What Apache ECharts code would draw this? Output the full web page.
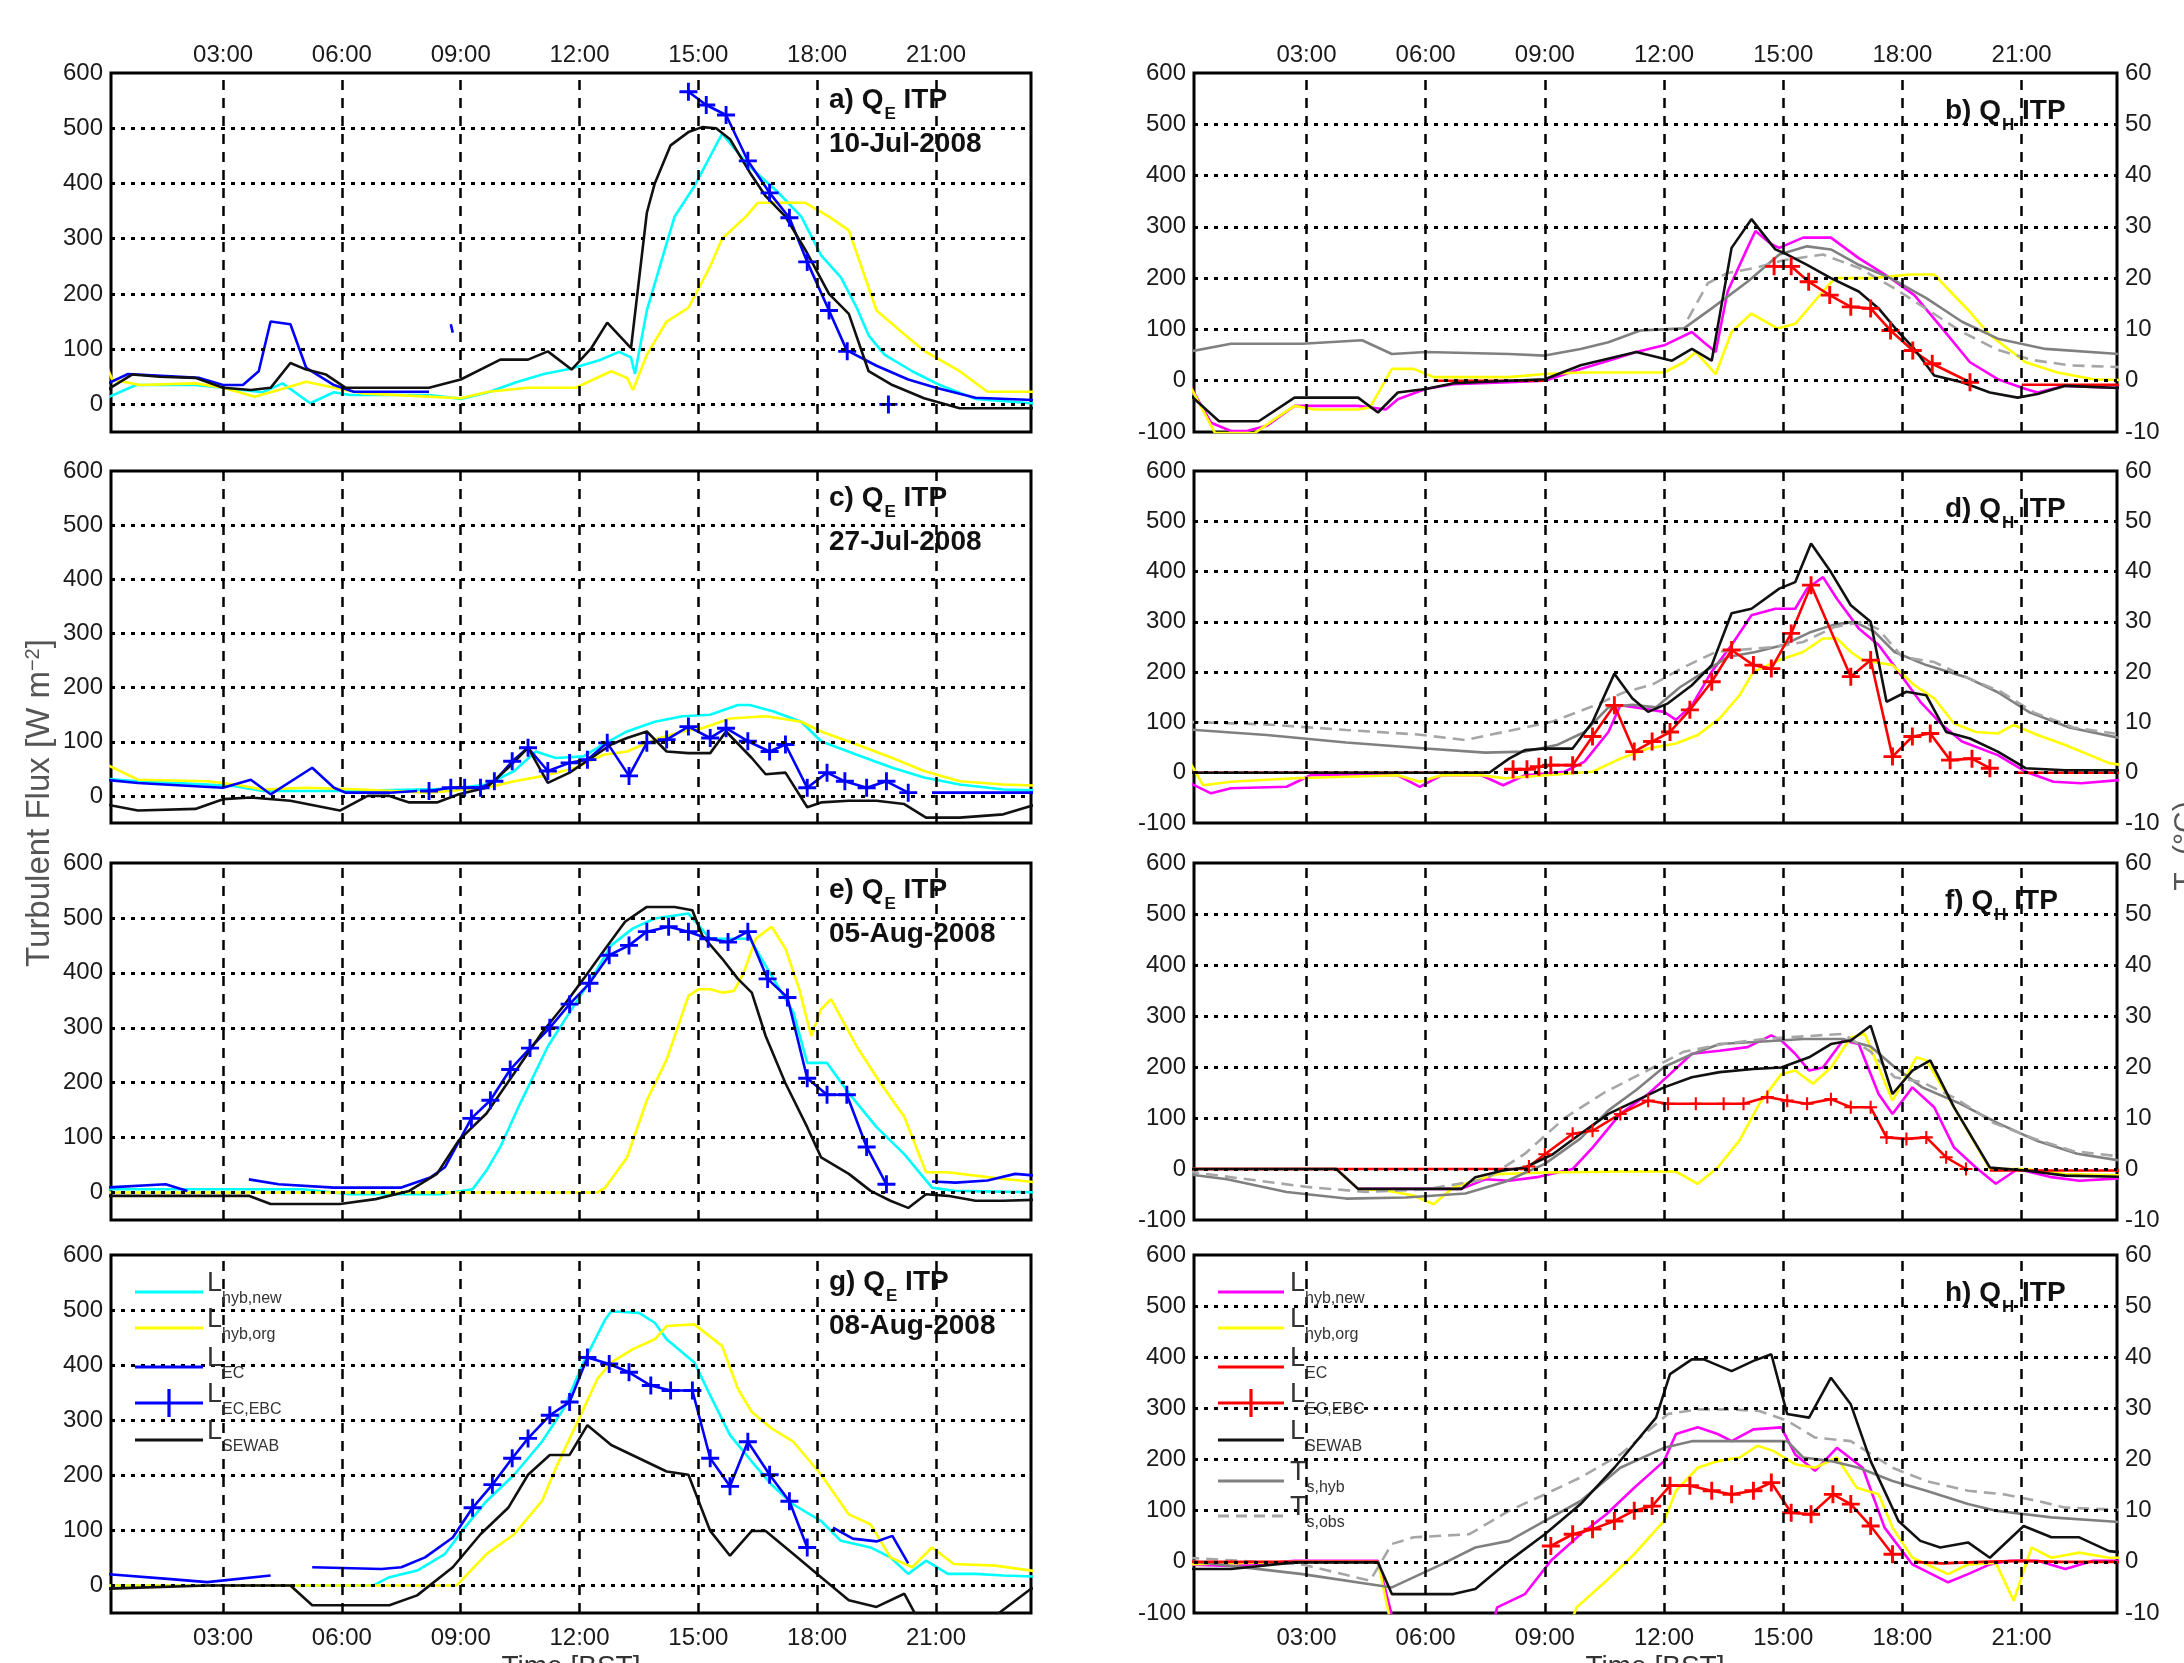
<!DOCTYPE html>
<html>
<head>
<meta charset="utf-8">
<script src="https://cdn.jsdelivr.net/npm/echarts@6/dist/echarts.min.js"></script>
<style>
html,body{margin:0;padding:0;background:#fff;}
#chart{width:2184px;height:1663px;}
</style>
</head>
<body>
<div id="chart"></div>
<script>
// ---- axis ticks and labels ----
const hourTicks  = [3, 6, 9, 12, 15, 18, 21];
const hourLabels = ['03:00', '06:00', '09:00', '12:00', '15:00', '18:00', '21:00'];
const fluxTicksQE = [0, 100, 200, 300, 400, 500, 600];
const fluxTicksQH = [-100, 0, 100, 200, 300, 400, 500, 600];
const tempTicks   = [-10, 0, 10, 20, 30, 40, 50, 60];
const fluxGridLines = [0, 100, 200, 300, 400, 500];
const panelLetters = ['a', 'b', 'c', 'd', 'e', 'f', 'g', 'h'];
const dayLabels = ['10-Jul-2008', '27-Jul-2008', '05-Aug-2008', '08-Aug-2008'];

// ---- latent heat flux Q_E (W m-2), [hour, value] ----
const aHybNew = [[0,10],[0.8,35],[2.3,35],[3,30],[4,22],[4.5,38],[5.2,2],[5.8,22],[6.2,17],[8.2,17],[9,10],[9.7,22],[10.4,40],[11.1,55],[11.8,65],[12.5,80],[13,95],[13.3,85],[13.4,55],[13.7,170],[14.4,340],[14.9,395],[15.6,490],[16.3,430],[17,385],[17.6,340],[18.1,270],[18.6,230],[19,175],[19.3,125],[19.7,90],[20.4,60],[21.1,35],[22,10],[23.4,2],[24,2]];
const aHybOrg = [[0,80],[0.2,45],[0.9,35],[2.3,38],[3,30],[3.8,14],[4.4,26],[5.1,41],[5.8,30],[6.5,20],[8.2,14],[9,11],[9.7,23],[10.7,30],[11.9,30],[12.5,50],[12.8,60],[13.2,48],[13.35,26],[13.7,90],[14.2,150],[14.75,175],[15.3,250],[15.6,300],[16.2,340],[16.5,365],[17.7,365],[18.3,340],[18.8,315],[19.5,170],[20.2,127],[20.7,97],[21.6,60],[22.3,23],[24,23]];
const aEC     = [[0,35],[0.6,55],[2.4,48],[3,35],[3.5,35],[3.9,60],[4.2,150],[4.7,145],[5.1,66],[5.8,35],[6.3,23],[8.2,23],[8.4,null],[8.75,145],[8.8,130],[9,null],[18.8,96],[19.5,70],[20.3,45],[21,30],[22,12],[23.45,8],[24,8]];
const aEBC    = [[14.75,566],[15.2,542],[15.7,524],[16.25,441],[16.8,383],[17.3,338],[17.75,258],[18.3,170],[18.76,96],[19.2,null],[19.8,0]];
const aSewab  = [[0,23],[0.7,54],[1.4,50],[2.3,48],[3,30],[3.7,26],[4.2,30],[4.7,75],[5.1,63],[5.6,54],[6.1,30],[8.2,30],[9,45],[10,81],[10.7,81],[11.2,96],[11.8,63],[12.3,102],[12.7,148],[13.3,102],[13.7,347],[13.9,400],[14.3,469],[14.75,493],[15.1,502],[15.45,500],[15.8,480],[16.3,420],[16.7,377],[17.2,340],[17.7,280],[18.3,200],[18.8,164],[19.3,60],[19.9,35],[20.7,11],[21.6,-7],[24,-7]];

const cHybNew = [[0,32],[0.85,27],[2.6,21],[3.3,18],[4,9],[6.1,9],[8.2,12],[9,15],[9.65,21],[10.35,46],[10.9,82],[11.4,70],[12.1,73],[12.6,95],[13.2,119],[13.9,137],[14.6,147],[15.3,150],[16,168],[16.3,168],[16.9,156],[17.6,137],[18.1,101],[19,76],[19.9,52],[20.7,34],[21.6,21],[22.7,12],[24,9]];
const cHybOrg = [[0,60],[0.85,30],[2.6,27],[3.3,21],[4,12],[5.1,15],[6.5,12],[8.2,6],[9.65,15],[10.35,27],[11.1,37],[11.9,52],[12.6,76],[13.2,82],[13.9,104],[14.6,119],[15.1,125],[15.8,143],[16.7,147],[17.6,137],[18.1,119],[19,95],[19.9,70],[20.7,46],[21.6,27],[22.7,21],[24,18]];
const cEC     = [[0,30],[0.85,24],[2.3,18],[3,15],[3.7,30],[4.2,3],[5.25,52],[5.8,15],[6.1,6],[7.2,6],[7.9,9],[8.3,null],[20.9,6],[24,6]];
const cEBC    = [[8.2,9],[8.75,15],[9.1,15],[9.5,15],[9.85,27],[10.3,64],[10.7,89],[11.2,46],[11.75,61],[12.2,67],[12.7,98],[13.25,37],[13.7,98],[14.2,104],[14.75,128],[15.3,107],[15.7,125],[16.25,101],[16.8,82],[17.2,95],[17.75,15],[18.25,43],[18.7,27],[19.25,15],[19.75,27],[20.3,6]];
const cSewab  = [[0,-15],[0.85,-27],[2.3,-24],[3,-6],[3.7,-3],[4.7,-9],[5.95,-27],[6.65,0],[7.2,0],[7.7,-12],[8.4,-12],[8.95,3],[9.65,15],[10.2,52],[10.7,89],[11.2,24],[11.75,43],[12.3,70],[12.8,95],[13.2,107],[13.7,119],[14.2,82],[14.75,79],[15.3,79],[15.7,119],[16.35,70],[16.7,40],[17.2,43],[17.75,-21],[18.1,-12],[18.8,-9],[19.5,-9],[20.2,-15],[20.75,-40],[21.6,-40],[22.7,-34],[24,-5]];

const eHybNew = [[0,6],[5,6],[6.2,-3],[8.5,-3],[9.3,6],[9.65,40],[10,83],[10.5,162],[11.2,266],[11.75,328],[12.3,389],[12.8,450],[13.35,481],[13.9,499],[14.75,508],[15.3,462],[16.3,462],[16.7,413],[17.4,328],[17.75,236],[18.25,236],[18.8,181],[19.5,119],[20.2,70],[20.9,9],[21.45,3],[24,0]];
const eHybOrg = [[0,0],[12.45,0],[12.65,9],[13.2,64],[13.7,168],[14.2,242],[14.75,358],[15,370],[15.3,370],[15.6,364],[15.9,367],[16.15,401],[16.45,462],[16.85,484],[17.2,444],[17.55,370],[17.85,285],[18.1,334],[18.35,352],[19,266],[19.6,199],[20.2,138],[20.75,37],[21.3,37],[22.3,28],[24,15]];
const eEC     = [[0,9],[1.55,15],[2.1,3],[2.2,null],[3.65,24],[4.4,15],[5.8,9],[7.5,9],[8.25,28],[8.6,46],[9.27,135],[9.4,null],[20.9,20],[21.5,18],[22.3,22],[23,34],[24,28]];
const eEBC    = [[9.27,135],[9.75,168],[10.25,224],[10.75,263],[11.25,300],[11.75,343],[12.25,381],[12.75,432],[13.25,450],[13.7,475],[14.25,484],[14.75,475],[15.25,462],[15.75,456],[16.25,475],[16.75,389],[17.25,355],[17.75,208],[18.25,178],[18.75,178],[19.25,83],[19.75,15]];
const eSewab  = [[0,-6],[3.65,-6],[4.2,-21],[5.95,-21],[6.85,-12],[7.7,3],[8.4,34],[8.95,95],[9.65,144],[10.35,217],[11.05,291],[11.6,340],[12.1,389],[12.65,444],[13.15,493],[13.7,520],[14.4,520],[14.85,514],[15.1,468],[15.6,426],[16,389],[16.35,364],[16.7,285],[17.2,199],[17.75,119],[18.1,64],[18.8,34],[19.35,3],[19.85,-15],[20.3,-28],[20.75,-3],[21.3,-6],[22,-15],[22.7,-15],[24,-12]];

const gHybNew = [[0,0],[6.8,0],[7.2,15],[7.9,27],[8.6,57],[9.1,105],[9.65,153],[10.35,201],[11.05,261],[11.6,321],[12.1,405],[12.65,483],[12.8,498],[13.5,495],[13.9,477],[14.2,447],[14.9,405],[15.3,345],[15.8,273],[16.35,225],[16.85,183],[17.4,147],[18.1,117],[18.6,81],[19.35,69],[19.85,51],[20.3,21],[20.75,45],[21.3,21],[22,21],[22.7,18],[24,15]];
const gHybOrg = [[0,0],[8.9,0],[9.65,57],[10.35,93],[11.05,153],[11.4,213],[11.95,297],[12.45,375],[12.8,405],[13.35,429],[13.9,447],[14.2,471],[14.9,474],[15.6,435],[16,357],[16.35,315],[16.85,285],[17.4,261],[18.1,201],[18.8,129],[19.35,111],[19.85,51],[20.4,33],[20.9,69],[21.45,39],[22.5,36],[24,21]];
const gEC     = [[0,21],[1.6,12],[2.6,6],[4.2,18],[4.3,null],[5.25,33],[7,30],[7.5,33],[8.1,51],[8.8,87],[9.3,141],[9.4,null],[18.4,105],[18.9,85],[19.5,80],[19.9,90],[20.3,40]];
const gEBC    = [[9.3,141],[9.8,183],[10.3,231],[10.7,267],[11.25,309],[11.75,333],[12.2,414],[12.75,402],[13.25,387],[13.8,363],[14.3,354],[14.85,354],[15.3,231],[15.8,180],[16.25,261],[16.8,201],[17.3,153],[17.75,69]];
const gSewab  = [[0,-6],[2.6,0],[4.7,0],[5.25,-36],[7.2,-36],[7.9,-18],[8.8,33],[9.5,93],[10.2,141],[10.7,201],[11.25,237],[11.75,237],[12.2,291],[12.8,255],[13.5,231],[14.2,207],[14.75,201],[15.3,99],[15.8,54],[16.35,99],[16.7,99],[17.4,57],[18.1,15],[18.8,-27],[19.5,-39],[20.2,-15],[20.5,-55],[22.5,-55],[23.4,-6],[24,0]];

// ---- sensible heat flux Q_H (W m-2) and surface temperature (deg C) ----
const bHybNew = [[0,0],[0.6,-82],[1.1,-98],[1.5,-98],[2,-88],[2.7,-49],[4.3,-49],[5,-56],[5.3,-36],[6,-16],[6.7,-7],[8.1,-3],[9,0],[9.9,23],[10.6,39],[11.3,56],[12,69],[12.7,95],[13,75],[13.3,56],[13.6,174],[14.1,259],[14.3,292],[14.7,266],[14.9,259],[15.5,279],[16.2,279],[16.9,239],[17.7,200],[18.3,167],[19,102],[19.7,36],[20.4,3],[21.1,-16],[21.4,-23],[22.1,-10],[24,-16]];
const bHybOrg = [[0,0],[0.7,-102],[1.7,-102],[2.2,-75],[2.7,-49],[3.2,-56],[4.3,-56],[4.6,-52],[5.15,23],[5.7,23],[6.2,7],[8.1,7],[9,13],[9.9,16],[12,16],[12.5,36],[12.8,56],[13.3,13],[13.7,95],[14.2,131],[14.85,102],[15.3,111],[16,174],[16.3,200],[17.2,200],[18.2,207],[18.8,207],[19.7,134],[20.2,89],[21.1,36],[21.9,16],[22.8,3],[24,0]];
const bEC     = [[6.2,0],[9,0],[9.1,null],[21,-8],[24,-8]];
const bEBC    = [[14.77,223],[15.2,223],[15.64,193],[16.17,167],[16.7,144],[17.2,141],[17.7,98],[18.26,59],[18.75,33],[19.7,-3]];
const bSewab  = [[0,-23],[0.8,-79],[1.8,-79],[2.7,-33],[4.3,-33],[4.8,-62],[5.3,-23],[6,-16],[6.7,-5],[8.1,0],[9,3],[9.9,30],[11.3,56],[12.2,39],[12.7,62],[13.2,39],[13.7,259],[14.2,315],[14.8,256],[15.1,246],[15.6,226],[16.2,200],[16.9,174],[17.4,141],[17.9,95],[18.3,62],[18.8,10],[19.5,-3],[20.2,-23],[20.9,-33],[21.4,-26],[22.1,-10],[24,-16]];
const bTsHyb  = [[0,5.6],[1.1,7.2],[2.9,7.2],[4.4,7.9],[5.15,5.2],[6,5.6],[8.1,5.2],[9,4.9],[9.9,6.2],[10.6,7.5],[11.4,9.8],[12.5,10.2],[13.2,14.1],[14.1,19.3],[14.9,24.6],[15.6,26.2],[16.2,25.6],[16.9,22.6],[17.7,20],[18.6,16.1],[19.5,11.5],[20.4,8.2],[21.6,6.2],[24,4.9]];
const bTsObs  = [[12.6,12],[13.1,19],[13.6,21],[14.3,22],[15,23.5],[16,24.6],[16.9,22],[17.8,18],[18.6,14],[19.5,9.5],[20.4,6],[21.3,4],[22.2,3],[24,2.5]];

const dHybNew = [[0,-18],[0.6,-41],[1.1,-31],[2.5,-28],[3.1,-5],[5.3,-5],[5.85,-28],[6.4,-5],[7.4,-5],[7.95,-25],[8.5,-5],[9.5,2],[10,22],[10.6,81],[10.9,134],[11.45,128],[12,121],[12.3,105],[12.7,134],[13.2,201],[13.7,254],[14.2,313],[14.8,326],[15.3,326],[15.6,366],[16,389],[16.35,346],[16.9,287],[17.4,254],[17.9,201],[18.45,141],[19,95],[19.5,62],[20.4,35],[21.1,2],[21.8,-18],[22.5,-21],[24,-11]];
const dHybOrg = [[0,30],[0.4,-25],[1.1,-18],[2.7,-11],[5.3,-5],[5.85,-18],[6.4,-5],[7.4,-5],[8,-11],[8.5,-8],[10.2,2],[10.9,28],[11.6,48],[12.3,58],[12.85,75],[13.4,108],[13.9,154],[14.25,201],[14.9,224],[15.5,240],[16,267],[16.35,267],[16.7,240],[17,224],[17.75,214],[18.3,174],[18.8,148],[19.3,98],[19.85,81],[20.4,78],[20.8,95],[21.4,75],[22.1,55],[23.2,19],[24,10]];
const dEC     = [[0,0],[7.6,0],[7.7,null],[20.9,0],[24,0]];
const dEBC    = [[8.2,7],[8.55,7],[8.85,12],[9.15,15],[9.7,15],[10.2,72],[10.75,134],[11.25,42],[11.7,62],[12.15,81],[12.65,125],[13.2,181],[13.7,244],[14.25,214],[14.7,207],[15.2,277],[15.7,373],[16.7,191],[17.2,224],[17.75,32],[18.25,72],[18.7,78],[19.2,25],[19.75,28],[20.2,9]];
const dSewab  = [[0,0],[7.6,0],[8.1,28],[8.5,45],[9,48],[9.7,48],[10.2,101],[10.75,197],[11.2,148],[11.6,121],[12.1,138],[12.7,174],[13.2,214],[13.7,317],[14.2,326],[14.9,366],[15.3,379],[15.7,456],[16.2,399],[16.7,333],[17.2,300],[17.6,141],[18.1,161],[18.6,154],[19.1,81],[19.7,68],[20.4,42],[21.1,9],[22.1,5],[24,5]];
const dTsHyb  = [[0,8.6],[2,7.5],[4,6],[6,4.8],[7.5,4],[8.5,4.2],[9.3,5.5],[10,8.1],[10.6,13],[11.2,13.5],[11.8,13],[12.4,17],[13,20],[13.6,23],[14.3,24],[15,25.4],[15.7,28],[16.3,29.5],[16.8,30],[17.3,28],[17.8,24],[18.6,21.4],[19.6,19],[20.4,16],[21.2,12],[22.2,9],[24,6]];
const dTsObs  = [[0,10.1],[2,9.6],[4,8.5],[5.8,7.6],[7,6.5],[8.2,8.5],[9.2,10.2],[10.2,13.2],[11,16],[11.7,17.5],[12.5,21],[13.3,24],[14,24.5],[14.8,25],[15.5,26],[16.3,29],[17,30],[17.4,28.5],[18,23],[18.8,22],[19.6,19],[20.5,16],[21.3,12],[22.3,9],[24,7]];

const fHybNew = [[0,0],[3.75,0],[4.3,-39],[6.9,-39],[7.5,-20],[8.1,-23],[8.8,-16],[9.7,0],[10.2,42],[10.9,108],[11.6,147],[12.15,186],[12.7,226],[13.4,232],[14.1,239],[14.7,262],[14.95,252],[15.3,226],[15.65,193],[16,199],[16.5,252],[16.9,245],[17.4,147],[17.75,108],[18.25,160],[18.8,121],[19.3,42],[19.85,3],[20.35,-29],[20.9,0],[21.75,-16],[22.45,-23],[24,-16]];
const fHybOrg = [[0,0],[3.75,0],[4.3,-39],[5,-42],[5.7,-52],[6.2,-69],[6.7,-36],[7.8,-10],[9,-7],[10.9,-5],[12.3,-5],[12.85,-29],[13.35,3],[13.9,56],[14.4,128],[14.95,186],[15.3,193],[15.75,167],[16.2,199],[16.7,258],[17.05,265],[17.75,134],[18.35,219],[18.6,213],[19.3,121],[20.2,0],[21.1,0],[22.1,-10],[24,-13]];
const fEC     = [[0,0],[8.6,0],[8.7,null],[20.2,-3],[24,-3]];
const fEBC    = [[8.6,5],[9,29],[9.7,69],[10.2,75],[10.9,108],[11.6,134],[12.1,128],[12.8,128],[13.5,128],[14,128],[14.6,141],[15.1,134],[15.6,128],[16.2,137],[16.7,121],[17.2,121],[17.6,62],[18.1,59],[18.6,62],[19.1,23],[19.6,0]];
const fSewab  = [[0,0],[3.75,0],[4.3,-39],[6.9,-39],[7.25,-16],[7.95,-3],[8.5,3],[9.2,29],[9.9,69],[10.6,108],[11.3,134],[12,160],[12.7,180],[13.4,190],[14.25,196],[14.95,199],[15.65,219],[16.2,245],[16.7,252],[17.2,281],[17.75,147],[18.25,193],[18.7,213],[19.3,121],[20.2,3],[21.1,-3],[22.1,-13],[24,-16]];
const fTsHyb  = [[0,-1],[1,-2],[2.5,-4.5],[4,-5.8],[5.5,-5.6],[7,-4.8],[8,-2.5],[9,1],[9.9,6],[10.6,11.5],[11.3,15.5],[12,20],[12.7,22.5],[13.4,24.5],[14.5,25],[15.5,25.5],[16.5,25.5],[17.2,24],[17.8,20],[18.5,16],[19.4,13],[20.4,9],[21.4,5.5],[22.4,3],[24,1]];
const fTsObs  = [[0,-0.5],[1.5,-2],[3,-3.5],[4.5,-4.5],[6,-4],[7.5,-2],[8.5,3],[9.5,10],[10.5,15],[11.5,19],[12.5,23],[13.5,24.5],[14.5,25.5],[15.5,26],[16.5,26.5],[17.2,23],[17.8,18],[18.5,17],[19.3,14],[20.3,9],[21.3,6],[22.3,3.5],[24,2]];

const hHybNew = [[0,-5],[1.1,-8],[2.7,2],[4.8,2],[5.2,-120],[7.7,-120],[7.8,-89],[8.5,-63],[9.15,2],[9.9,54],[10.55,93],[11.25,145],[12,197],[12.3,250],[12.85,263],[13.35,250],[13.7,236],[14.25,259],[14.95,263],[15.3,210],[15.8,178],[16.35,223],[17,184],[17.55,67],[18.25,-5],[19.15,-40],[19.65,-24],[20.2,-5],[20.7,2],[21.4,2],[22.1,-14],[22.8,2],[24,2]];
const hHybOrg = [[0,-5],[2.7,0],[4.8,0],[5.15,-130],[9.6,-130],[9.8,-89],[10.55,-37],[11.25,15],[12,80],[12.3,139],[12.85,184],[13.35,197],[13.9,204],[14.35,227],[14.75,217],[15.3,191],[15.8,184],[16.35,204],[16.85,145],[17.4,132],[17.75,67],[18.25,8],[19.15,-24],[19.65,-5],[20.35,-2],[20.8,-76],[21.25,28],[21.75,8],[22.45,18],[23.2,8],[24,8]];
const hEC     = [[0,0],[4.8,0],[4.9,null],[18.3,0],[19,-3],[20,0],[21,2],[22,0],[24,0]];
const hEBC    = [[9.15,31],[9.7,54],[10.2,64],[10.75,80],[11.25,100],[11.7,109],[12.15,149],[12.65,149],[13.2,139],[13.7,132],[14.25,139],[14.7,155],[15.2,96],[15.7,93],[16.25,132],[16.7,113],[17.2,70],[17.75,15]];
const hSewab  = [[0,-14],[1.1,-14],[2.7,-1],[4.8,-1],[5.15,-63],[6.7,-63],[7.25,-53],[8.1,2],[9,54],[9.9,113],[10.75,184],[11.8,282],[12.15,367],[12.7,396],[13,396],[13.7,373],[14.25,393],[14.7,406],[15.1,289],[15.65,282],[16.2,360],[16.7,308],[17.2,197],[17.9,80],[18.45,41],[18.95,28],[19.65,38],[20.2,8],[21.05,70],[21.75,48],[22.45,48],[23.2,21],[24,15]];
const hTsHyb  = [[0,0.2],[2.9,-2.4],[5.15,-5],[6.4,-0.5],[7.25,2.8],[8.1,4.1],[9,8],[9.9,11.9],[10.9,18.4],[12,22.3],[12.7,23.6],[15.1,23.6],[15.5,20.4],[16.2,19.7],[16.9,18.4],[17.75,15.8],[18.6,13.9],[19.65,11.3],[20.35,10],[21.75,8.7],[24,7.5]];
const hTsObs  = [[0,0.8],[2.9,-0.5],[4.6,-3.7],[5.15,3.5],[5.7,4.8],[7.1,5.4],[8.1,10],[9,13.2],[9.9,16.5],[10.9,21],[12.1,28.9],[12.85,29.8],[13.7,29.8],[14.4,29.5],[15.1,27.6],[15.8,24.3],[16.7,23.6],[17.75,18.4],[18.6,15.8],[19.65,13.9],[20.55,13.2],[21.4,11.9],[22.1,10.6],[24,10]];

// ---- panel grouping ----
const qePanels = [
  { hybNew: aHybNew, hybOrg: aHybOrg, ec: aEC, ebc: aEBC, sewab: aSewab },
  { hybNew: cHybNew, hybOrg: cHybOrg, ec: cEC, ebc: cEBC, sewab: cSewab },
  { hybNew: eHybNew, hybOrg: eHybOrg, ec: eEC, ebc: eEBC, sewab: eSewab },
  { hybNew: gHybNew, hybOrg: gHybOrg, ec: gEC, ebc: gEBC, sewab: gSewab }
];
const qhPanels = [
  { hybNew: bHybNew, hybOrg: bHybOrg, ec: bEC, ebc: bEBC, sewab: bSewab, tsHyb: bTsHyb, tsObs: bTsObs },
  { hybNew: dHybNew, hybOrg: dHybOrg, ec: dEC, ebc: dEBC, sewab: dSewab, tsHyb: dTsHyb, tsObs: dTsObs },
  { hybNew: fHybNew, hybOrg: fHybOrg, ec: fEC, ebc: fEBC, sewab: fSewab, tsHyb: fTsHyb, tsObs: fTsObs },
  { hybNew: hHybNew, hybOrg: hHybOrg, ec: hEC, ebc: hEBC, sewab: hSewab, tsHyb: hTsHyb, tsObs: hTsObs }
];

// ---- layout and styling ----
const FAM = '"Liberation Sans", Arial, Helvetica, sans-serif';
const COLS = [{ left: 111, width: 920 }, { left: 1194, width: 923 }];
const ROWS = [{ top: 73, height: 359 }, { top: 471, height: 352 }, { top: 863, height: 357 }, { top: 1255, height: 358 }];
const COLORS = {
  qe: { hybNew: '#00ffff', hybOrg: '#ffff00', ec: '#0000ff', ebc: '#0000ff', sewab: '#111111' },
  qh: { hybNew: '#ff00ff', hybOrg: '#ffff00', ec: '#ff0000', ebc: '#ff0000', sewab: '#111111', tsHyb: '#808080', tsObs: '#a6a6a6' }
};
const PLUS = 'path://M-1.6,-10L1.6,-10L1.6,-1.6L10,-1.6L10,1.6L1.6,1.6L1.6,10L-1.6,10L-1.6,1.6L-10,1.6L-10,-1.6L-1.6,-1.6Z';
const LABEL_STYLE = { fontFamily: FAM, fontSize: 24, color: '#1a1a1a' };

const clean = arr => arr.map(p => [p[0], p[1] === null ? '-' : p[1]]);
const hourFmt = v => { const i = hourTicks.indexOf(v); return i >= 0 ? hourLabels[i] : ''; };

const grids = [], xAxes = [], yAxes = [], series = [];

for (let r = 0; r < 4; r++) {
  for (let c = 0; c < 2; c++) {
    const gi = grids.length;
    grids.push({
      left: COLS[c].left, top: ROWS[r].top, width: COLS[c].width, height: ROWS[r].height,
      show: true, borderColor: '#000', borderWidth: 3, backgroundColor: 'rgba(0,0,0,0)'
    });
    xAxes.push({
      type: 'value', gridIndex: gi, min: 0.17, max: 23.4,
      position: r === 0 ? 'top' : 'bottom',
      axisLine: { show: false }, axisTick: { show: false }, splitLine: { show: false },
      axisLabel: Object.assign({ show: r === 0 || r === 3, customValues: hourTicks, formatter: hourFmt, margin: r === 0 ? 6 : 13 }, LABEL_STYLE)
    });
    const yFlux = yAxes.length;
    yAxes.push({
      type: 'value', gridIndex: gi, min: c === 0 ? -50 : -100, max: 600, position: 'left',
      axisLine: { show: false }, axisTick: { show: false }, splitLine: { show: false },
      axisLabel: Object.assign({ customValues: c === 0 ? fluxTicksQE : fluxTicksQH, margin: 8 }, LABEL_STYLE)
    });
    let yTemp = null;
    if (c === 1) {
      yTemp = yAxes.length;
      yAxes.push({
        type: 'value', gridIndex: gi, min: -10, max: 60, position: 'right',
        axisLine: { show: false }, axisTick: { show: false }, splitLine: { show: false },
        axisLabel: Object.assign({ customValues: tempTicks, margin: 8 }, LABEL_STYLE)
      });
    }

    // dashed hour grid and dotted flux grid
    series.push({
      type: 'line', xAxisIndex: gi, yAxisIndex: yFlux, data: [], silent: true, z: 1,
      markLine: {
        silent: true, symbol: 'none', animation: false, label: { show: false },
        lineStyle: { color: '#000', width: 2.5 },
        data: hourTicks.map(h => ({ xAxis: h, lineStyle: { type: [10, 8], color: '#000', width: 2.5 } }))
          .concat(fluxGridLines.map(v => ({ yAxis: v, lineStyle: { type: [4, 6], color: '#000', width: 3 } })))
      }
    });

    const p = c === 0 ? qePanels[r] : qhPanels[r];
    const col = c === 0 ? COLORS.qe : COLORS.qh;
    const base = (name, data, color, extra) => Object.assign({
      type: 'line', name, xAxisIndex: gi, yAxisIndex: yFlux, data: clean(data),
      showSymbol: false, symbol: 'none', connectNulls: false, silent: true, z: 3,
      lineStyle: { color, width: 2.6 }, itemStyle: { color }
    }, extra || {});

    series.push(base('hyb,new', p.hybNew, col.hybNew));
    series.push(base('hyb,org', p.hybOrg, col.hybOrg));
    if (c === 1) {
      series.push(base('Ts,hyb', p.tsHyb, col.tsHyb, { yAxisIndex: yTemp }));
      series.push(base('Ts,obs', p.tsObs, col.tsObs, { yAxisIndex: yTemp, lineStyle: { color: col.tsObs, width: 2.6, type: [12, 7] } }));
    }
    series.push(base('EC', p.ec, col.ec));
    series.push(base('EC,EBC', p.ebc, col.ebc, {
      showSymbol: true, symbol: PLUS, symbolSize: (c === 1 && r === 2) ? 13 : 18
    }));
    series.push(base('SEWAB', p.sewab, col.sewab));
  }
}

// ---- text helpers (annotations, legends, axis titles) ----
const meas = document.createElement('canvas').getContext('2d');
const textW = (t, font) => { meas.font = font; return meas.measureText(t).width; };
function txt(x, y, text, font, va, fill) {
  return {
    type: 'text', x, y, silent: true, z: 50,
    style: { text, font, fill: fill || '#111', align: 'left', verticalAlign: va || 'middle', textAlign: 'left', textVerticalAlign: va || 'middle' }
  };
}
function withSub(x, y, main, sub, tail, bigFont, smallFont, drop) {
  const out = [];
  let cx = x;
  out.push(txt(cx, y, main, bigFont)); cx += textW(main, bigFont) + 1;
  out.push(txt(cx, y + drop, sub, smallFont)); cx += textW(sub, smallFont);
  if (tail) out.push(txt(cx, y, tail, bigFont));
  return out;
}

const graphics = [];
const TITLE_FONT = 'bold 28px ' + FAM;
const TITLE_SUB = 'bold 17px ' + FAM;
for (let r = 0; r < 4; r++) {
  // Q_E panels
  graphics.push(...withSub(829, ROWS[r].top + 27, panelLetters[2 * r] + ') Q', 'E', ' ITP', TITLE_FONT, TITLE_SUB, 14));
  graphics.push(txt(829, ROWS[r].top + 71, dayLabels[r], TITLE_FONT));
  // Q_H panels
  graphics.push(...withSub(1945, ROWS[r].top + 38, panelLetters[2 * r + 1] + ') Q', 'H', ' ITP', TITLE_FONT, TITLE_SUB, 14));
}

// legends
const legendQE = [
  { main: 'L', sub: 'hyb,new', color: COLORS.qe.hybNew },
  { main: 'L', sub: 'hyb,org', color: COLORS.qe.hybOrg },
  { main: 'L', sub: 'EC', color: COLORS.qe.ec },
  { main: 'L', sub: 'EC,EBC', color: COLORS.qe.ebc, plus: true },
  { main: 'L', sub: 'SEWAB', color: COLORS.qe.sewab }
];
const legendQH = [
  { main: 'L', sub: 'hyb,new', color: COLORS.qh.hybNew },
  { main: 'L', sub: 'hyb,org', color: COLORS.qh.hybOrg },
  { main: 'L', sub: 'EC', color: COLORS.qh.ec },
  { main: 'L', sub: 'EC,EBC', color: COLORS.qh.ebc, plus: true },
  { main: 'L', sub: 'SEWAB', color: COLORS.qh.sewab },
  { main: 'T', sub: 's,hyb', color: COLORS.qh.tsHyb },
  { main: 'T', sub: 's,obs', color: COLORS.qh.tsObs, dashed: true }
];
const legendRowsY = [1292, 1328, 1367, 1403, 1440, 1481, 1516];
function addLegend(items, x1, x2, xl) {
  items.forEach((it, i) => {
    const y = legendRowsY[i];
    graphics.push({
      type: 'line', silent: true, z: 50,
      shape: { x1, y1: y, x2, y2: y },
      style: { stroke: it.color, lineWidth: 3.2, lineDash: it.dashed ? [11, 7] : null }
    });
    if (it.plus) {
      const mx = (x1 + x2) / 2;
      graphics.push({ type: 'line', silent: true, z: 50, shape: { x1: mx, y1: y - 14, x2: mx, y2: y + 14 }, style: { stroke: it.color, lineWidth: 3.2 } });
    }
    const mf = '27px ' + FAM, sf = '16px ' + FAM;
    graphics.push(txt(xl, y + 5, it.main, mf, 'bottom', '#333'));
    graphics.push(txt(xl + textW(it.main, mf), y - 1, it.sub, sf, 'top', '#333'));
  });
}
addLegend(legendQE, 135, 203, 207);
addLegend(legendQH, 1218, 1284, 1290);

// axis titles
graphics.push({
  type: 'text', x: 40, y: 803, rotation: Math.PI / 2, silent: true, z: 50,
  style: {
    text: 'Turbulent Flux [W m{sup|−2}]',
    fontFamily: FAM, fontSize: 33, fill: '#555',
    align: 'center', verticalAlign: 'middle', textAlign: 'center', textVerticalAlign: 'middle',
    rich: { sup: { fontFamily: FAM, fontSize: 20, fill: '#555', verticalAlign: 'top', lineHeight: 20 } }
  }
});
graphics.push({
  type: 'text', x: 2186, y: 846, rotation: Math.PI / 2, silent: true, z: 50,
  style: {
    text: 'T{sub|s} (°C)', fontFamily: FAM, fontSize: 30, fill: '#555',
    align: 'center', verticalAlign: 'middle', textAlign: 'center', textVerticalAlign: 'middle',
    rich: { sub: { fontFamily: FAM, fontSize: 18, fill: '#555', verticalAlign: 'bottom', lineHeight: 18 } }
  }
});
graphics.push({
  type: 'text', x: 571, y: 1653, silent: true, z: 50,
  style: { text: 'Time [BST]', font: '28px ' + FAM, fill: '#333', align: 'center', verticalAlign: 'top', textAlign: 'center', textVerticalAlign: 'top' }
});
graphics.push({
  type: 'text', x: 1655, y: 1653, silent: true, z: 50,
  style: { text: 'Time [BST]', font: '28px ' + FAM, fill: '#333', align: 'center', verticalAlign: 'top', textAlign: 'center', textVerticalAlign: 'top' }
});

const chart = echarts.init(document.getElementById('chart'), null, { renderer: 'canvas' });
chart.setOption({
  animation: false,
  backgroundColor: '#ffffff',
  grid: grids,
  xAxis: xAxes,
  yAxis: yAxes,
  series: series,
  graphic: { elements: graphics }
});
</script>
</body>
</html>
